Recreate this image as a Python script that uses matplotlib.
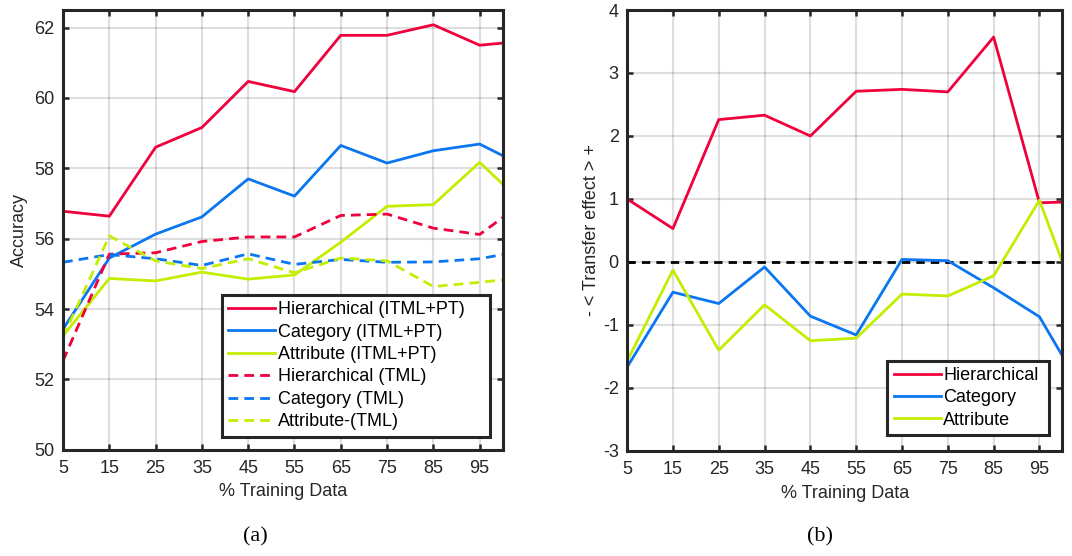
import numpy as np
import matplotlib.pyplot as plt

plt.rcParams['font.family'] = ['Liberation Sans', 'DejaVu Sans']
plt.rcParams['axes.unicode_minus'] = False

# % training data (last point is the 100% end of the axis)
x = [5, 15, 25, 35, 45, 55, 65, 75, 85, 95, 100]
xticks = [5, 15, 25, 35, 45, 55, 65, 75, 85, 95]

# (a) accuracy
hier_itml = [56.78, 56.64, 58.60, 59.16, 60.47, 60.18, 61.78, 61.78, 62.08, 61.50, 61.56]
cat_itml = [53.43, 55.45, 56.13, 56.62, 57.70, 57.21, 58.65, 58.15, 58.50, 58.69, 58.36]
attr_itml = [53.24, 54.87, 54.80, 55.05, 54.85, 54.97, 55.90, 56.92, 56.97, 58.17, 57.55]
hier_tml = [52.53, 55.56, 55.60, 55.92, 56.05, 56.05, 56.66, 56.70, 56.30, 56.12, 56.60]
cat_tml = [55.33, 55.55, 55.43, 55.24, 55.57, 55.27, 55.41, 55.33, 55.34, 55.43, 55.55]
attr_tml = [53.20, 56.08, 55.37, 55.15, 55.43, 55.03, 55.45, 55.37, 54.64, 54.76, 54.83]

# (b) transfer effect
hier_te = [1.00, 0.53, 2.26, 2.33, 2.00, 2.71, 2.74, 2.70, 3.57, 0.94, 0.95]
cat_te = [-1.67, -0.48, -0.66, -0.08, -0.86, -1.16, 0.04, 0.02, -0.41, -0.87, -1.49]
attr_te = [-1.57, -0.13, -1.40, -0.68, -1.25, -1.21, -0.51, -0.54, -0.22, 0.98, 0.0]

RED = '#f0003c'
BLUE = '#0a76f0'
GREEN = '#c2ee00'
DARK = '#262626'
FS = 13


def style_axes(ax, ylim, yticks):
    ax.set_xlim(5, 100)
    ax.set_ylim(*ylim)
    ax.set_xticks(xticks)
    ax.set_yticks(yticks)
    ax.tick_params(direction='in', top=True, right=True, length=4, width=1.8,
                   color=DARK, labelcolor=DARK, labelsize=FS)
    ax.tick_params(axis='x', pad=7)
    ax.tick_params(axis='y', pad=6)
    ax.grid(True, color='#262626', alpha=0.15, linewidth=1.5)
    for s in ax.spines.values():
        s.set_linewidth(2.2)
        s.set_color(DARK)
    ax.set_xlabel('% Training Data', fontsize=FS, color=DARK, labelpad=5)


def add_legend(ax, box):
    # box = (x0, y0, width) in axes fraction; MATLAB-style wide legend
    leg = ax.legend(loc='lower left', bbox_to_anchor=(box[0], box[1], box[2], 0.1),
                    mode='expand', fontsize=FS, fancybox=False, framealpha=1,
                    edgecolor=DARK, handlelength=2.6, handletextpad=0.15,
                    labelspacing=0.3, borderpad=0.35, borderaxespad=0)
    leg.get_frame().set_linewidth(2.2)


fig = plt.figure(figsize=(10.72, 5.56), dpi=100)
ax1 = fig.add_axes([0.0588, 0.191, 0.4102, 0.791])
ax2 = fig.add_axes([0.585, 0.189, 0.406, 0.793])

lw = 2.0
dash = (0, (3.5, 2.2))
ax1.plot(x, hier_itml, color=RED, lw=lw, label='Hierarchical (ITML+PT)')
ax1.plot(x, cat_itml, color=BLUE, lw=lw, label='Category (ITML+PT)')
ax1.plot(x, attr_itml, color=GREEN, lw=lw, label='Attribute (ITML+PT)')
ax1.plot(x, hier_tml, color=RED, lw=lw, ls=dash, label='Hierarchical (TML)')
ax1.plot(x, cat_tml, color=BLUE, lw=lw, ls=dash, label='Category (TML)')
ax1.plot(x, attr_tml, color=GREEN, lw=lw, ls=dash, label='Attribute-(TML)')
style_axes(ax1, (50, 62.5), [50, 52, 54, 56, 58, 60, 62])
ax1.set_ylabel('Accuracy', fontsize=FS, color=DARK, labelpad=5)
add_legend(ax1, (0.361, 0.03, 0.609))

ax2.axhline(0, color='black', lw=2.0, ls=(0, (3, 2.2)))
ax2.plot(x, hier_te, color=RED, lw=lw, label='Hierarchical')
ax2.plot(x, cat_te, color=BLUE, lw=lw, label='Category')
ax2.plot(x, attr_te, color=GREEN, lw=lw, label='Attribute')
style_axes(ax2, (-3, 4), [-3, -2, -1, 0, 1, 2, 3, 4])
ax2.set_ylabel('- < Transfer effect > +', fontsize=FS, color=DARK, labelpad=2)
add_legend(ax2, (0.598, 0.036, 0.372))

fig.text(0.238, 0.034, '(a)', fontsize=16, family='Liberation Serif',
         ha='center', va='center')
fig.text(0.765, 0.034, '(b)', fontsize=16, family='Liberation Serif',
         ha='center', va='center')

fig.savefig('out.png', dpi=100)
